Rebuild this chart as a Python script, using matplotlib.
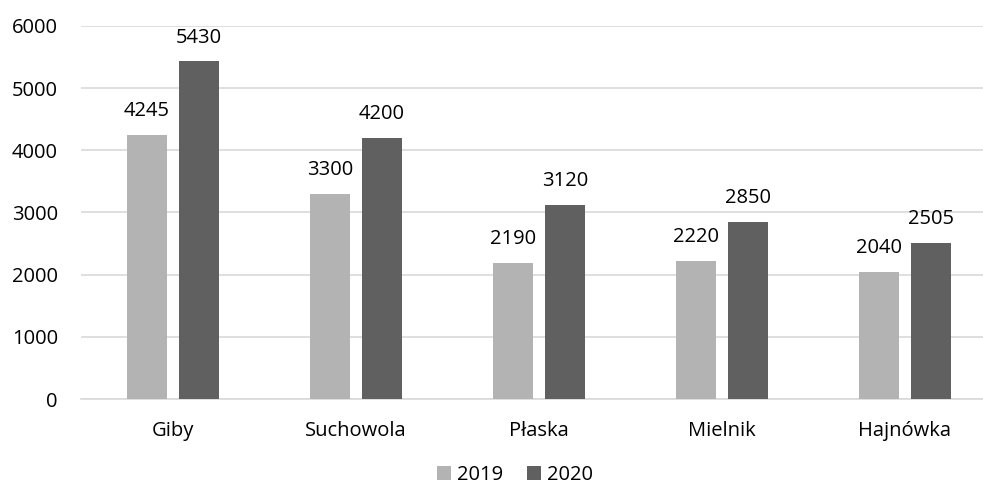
import numpy as np
import matplotlib.pyplot as plt

plt.rcParams['font.family'] = ['Open Sans', 'DejaVu Sans']

places = ['Giby', 'Suchowola', 'Płaska', 'Mielnik', 'Hajnówka']
v2019 = [4245, 3300, 2190, 2220, 2040]
v2020 = [5430, 4200, 3120, 2850, 2505]

fig = plt.figure(figsize=(9.83, 4.9), dpi=100)
# plot area runs slightly past the right edge, like the original export
ax = fig.add_axes([0.0829, 0.1857, 0.9308, 0.7613])

x = np.arange(len(places))
w = 0.219
off = 0.142
b1 = ax.bar(x - off, v2019, w, color='#b3b3b3', label='2019', zorder=3)
b2 = ax.bar(x + off, v2020, w, color='#606060', label='2020', zorder=3)

for bars in (b1, b2):
    for r in bars:
        ax.annotate(str(int(r.get_height())), (r.get_x() + r.get_width() / 2, r.get_height()),
                    xytext=(0, 10), textcoords='offset points', ha='center', va='bottom',
                    fontsize=14.5, color='#000000')

ax.set_xlim(-0.5, len(places) - 0.5)
ax.set_ylim(0, 6000)
ax.set_yticks(range(0, 6001, 1000))
ax.set_xticks(x)
ax.set_xticklabels(places)
ax.tick_params(axis='both', length=0, labelsize=14.5, colors='#000000')
ax.tick_params(axis='x', pad=16)
ax.tick_params(axis='y', pad=17)
ax.grid(axis='y', color='#d9d9d9', linewidth=1.2, zorder=0)
for s in ['top', 'right', 'left']:
    ax.spines[s].set_visible(False)
ax.spines['bottom'].set_color('#d9d9d9')
ax.spines['bottom'].set_linewidth(1.2)

fig.legend(handles=[b1, b2], loc='center', bbox_to_anchor=(0.524, 0.03), ncol=2, frameon=False,
           fontsize=14.5, handlelength=0.7, handleheight=0.7, handletextpad=0.3, columnspacing=1.2,
           borderpad=0.2)

fig.savefig('out.png', dpi=100)
